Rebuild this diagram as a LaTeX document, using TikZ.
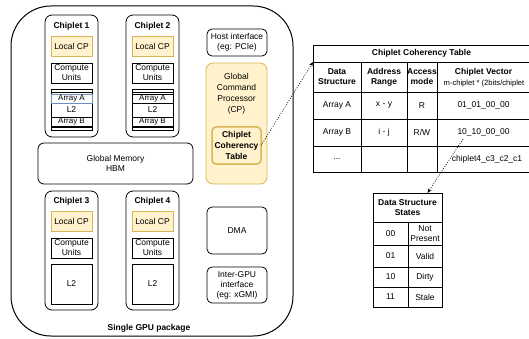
\documentclass[tikz,border=0pt]{standalone}
\usepackage{fontspec}
\setmainfont{Liberation Sans}
\usetikzlibrary{arrows.meta,calc}
\definecolor{cpfill}{HTML}{FFF2CC}
\definecolor{cpline}{HTML}{D6B656}
\definecolor{arrblue}{HTML}{6C8EBF}
\begin{document}
\begin{tikzpicture}[x=1pt,y=-1pt,
  font=\fontsize{8.5}{10}\selectfont,
  line width=0.8pt,
  sz/.style 2 args={minimum width=#1,minimum height=#2},
  base/.style={inner sep=0pt,outer sep=0pt,align=center},
  pkgbox/.style={base,draw,line width=1pt,rounded corners=40pt},
  chipbox/.style={base,draw,rounded corners=7pt},
  chiptitle/.style={base,font=\fontsize{8.5}{10}\selectfont\bfseries},
  lcpbox/.style={base,draw=cpline,fill=cpfill},
  unitbox/.style={base,draw},
  arrbox/.style={base,draw,fill=white,font=\fontsize{8}{9}\selectfont},
  rbox/.style={base,draw,rounded corners=5pt},
  gcpbox/.style={base,draw=cpline,fill=cpfill,rounded corners=7pt},
  cctbox/.style={base,draw=cpline,fill=cpfill,line width=1.5pt,rounded corners=4pt,
    font=\fontsize{8.5}{11}\selectfont\bfseries},
  tcell/.style={base,draw},
  hcell/.style={tcell,font=\fontsize{8.5}{10}\selectfont\bfseries},
  dotarrow/.style={line width=0.6pt,dash pattern=on 1pt off 1.5pt,
    -{Stealth[length=4.5pt,width=3.5pt]}}
]
\useasboundingbox (0,0) rectangle (529,339);
\begin{scope}
\clip (0,0) rectangle (529,339);

% single GPU package outline
\node[pkgbox,sz={282pt}{330pt}] (pkg) at (152,171) {};
\node[chiptitle] (pkglabel) at (149,328) {Single GPU package};

% upper chiplets with L2 holding the arrays
\foreach \i/\cx/\ac in {1/71.5/arrblue,2/152.5/black}{
  \node[chipbox,sz={53pt}{122pt}] (chip\i) at (\cx,76) {};
  \node[chiptitle] (chipt\i) at (\cx,26) {Chiplet \i};
  \node[lcpbox,sz={41pt}{20pt}] (lcp\i) at (\cx,46) {Local CP};
  \node[unitbox,sz={41pt}{20pt}] (cu\i) at (\cx,73) {Compute\\Units};
  \node[unitbox,sz={41pt}{40.5pt}] (l2\i) at (\cx,109.75) {};
  \draw ($(l2\i.north west)+(0,2.5)$) -- ($(l2\i.north east)+(0,2.5)$);
  \draw ($(l2\i.south west)+(0,-2.3)$) -- ($(l2\i.south east)+(0,-2.3)$);
  \node[arrbox,draw=\ac,sz={41pt}{8.5pt}] (arra\i) at (\cx,98.8) {Array A};
  \node[base] (l2t\i) at (\cx,110) {L2};
  \node[arrbox,sz={41pt}{9.5pt}] (arrb\i) at (\cx,121.8) {Array B};
}

% lower chiplets
\foreach \i/\cx in {3/71.5,4/152.5}{
  \node[chipbox,sz={53pt}{119pt}] (chip\i) at (\cx,250.5) {};
  \node[chiptitle] (chipt\i) at (\cx,201) {Chiplet \i};
  \node[lcpbox,sz={41pt}{20pt}] (lcp\i) at (\cx,221) {Local CP};
  \node[unitbox,sz={41pt}{20pt}] (cu\i) at (\cx,248) {Compute\\Units};
  \node[unitbox,sz={41pt}{40pt}] (l2\i) at (\cx,284) {L2};
}

% global memory
\node[base,draw,rounded corners=6pt,sz={155pt}{41pt}] (hbm) at (115.5,163.5) {Global Memory\\HBM};

% right column blocks
\node[rbox,sz={60pt}{27pt}] (host) at (237,42.5) {Host interface\\(eg: PCIe)};
\node[gcpbox,sz={61pt}{121pt}] (gcp) at (236.5,123.5) {};
\node[base,font=\fontsize{8.5}{11}\selectfont] (gcpt) at (236.5,94) {Global\\Command\\Processor\\(CP)};
\node[cctbox,sz={49pt}{37pt}] (cct) at (236.5,145.5) {Chiplet\\Coherency\\Table};
\node[rbox,sz={60pt}{47pt}] (dma) at (237,230.5) {DMA};
\node[rbox,sz={60pt}{36pt}] (igpu) at (237,285) {Inter-GPU\\interface\\(eg: xGMI)};

% chiplet coherency table
\node[hcell,sz={217pt}{17pt}] (ttitle) at (421.5,53.5) {Chiplet Coherency Table};
\node[hcell,sz={48pt}{30pt}] (hds) at (337,77) {Data\\Structure};
\node[hcell,sz={46pt}{30pt}] (har) at (384,77) {Address\\Range};
\node[hcell,sz={30pt}{30pt}] (ham) at (422,77) {Access\\mode};
\node[tcell,sz={93pt}{30pt}] (hcv) at (483.5,77) {};
\node[base,font=\fontsize{8.5}{10}\selectfont\bfseries] (hcvt) at (483.5,72.5) {Chiplet Vector};
\node[base,font=\fontsize{7.6}{9}\selectfont] (hcvs) at (484,83.5) {m-chiplet * (2bits/chiplet};

\node[tcell,sz={48pt}{27pt}] (r1a) at (337,105.5) {Array A};
\node[tcell,sz={46pt}{27pt}] (r1b) at (384,105.5) {x - y};
\node[tcell,sz={30pt}{27pt}] (r1c) at (422,105.5) {R};
\node[tcell,sz={93pt}{27pt}] (r1d) at (483.5,105.5) {01\_01\_00\_00};
\node[tcell,sz={48pt}{27pt}] (r2a) at (337,132.5) {Array B};
\node[tcell,sz={46pt}{27pt}] (r2b) at (384,132.5) {i - j};
\node[tcell,sz={30pt}{27pt}] (r2c) at (422,132.5) {R/W};
\node[tcell,sz={93pt}{27pt}] (r2d) at (483.5,132.5) {10\_10\_00\_00};
\node[tcell,sz={48pt}{26pt}] (r3a) at (337,159) {...};
\node[tcell,sz={46pt}{26pt}] (r3b) at (384,159) {};
\node[tcell,sz={30pt}{26pt}] (r3c) at (422,159) {};
\node[tcell,sz={93pt}{26pt}] (r3d) at (483.5,159) {};
\node[base] (r3dt) at (487,159) {chiplet4\_c3\_c2\_c1};

% data structure states table
\node[hcell,sz={69pt}{29pt}] (sthead) at (407.5,207.5) {Data Structure\\States};
\node[tcell,sz={35pt}{23pt}] (s0a) at (390.5,233.5) {00};
\node[tcell,sz={34pt}{23pt}] (s0b) at (425,233.5) {Not\\Present};
\node[tcell,sz={35pt}{22pt}] (s1a) at (390.5,256) {01};
\node[tcell,sz={34pt}{22pt}] (s1b) at (425,256) {Valid};
\node[tcell,sz={35pt}{20pt}] (s2a) at (390.5,277) {10};
\node[tcell,sz={34pt}{20pt}] (s2b) at (425,277) {Dirty};
\node[tcell,sz={35pt}{20pt}] (s3a) at (390.5,297) {11};
\node[tcell,sz={34pt}{20pt}] (s3b) at (425,297) {Stale};

% dotted links
\draw[dotarrow] (cct.east) -- (ttitle.south west);
\coordinate (vecpt) at (463,139);
\draw[dotarrow] (vecpt) -- ($(sthead.north west)!0.79!(sthead.north east)$);
\end{scope}
\end{tikzpicture}
\end{document}
